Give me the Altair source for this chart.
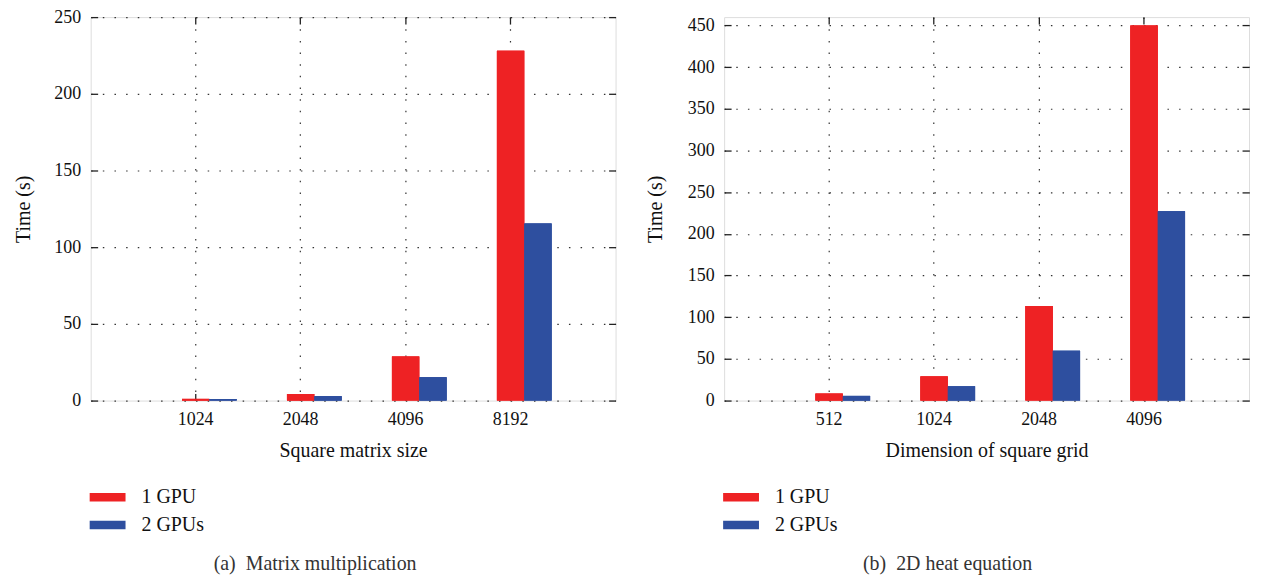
import altair as alt
import pandas as pd

FONT = "Liberation Serif, Times New Roman, serif"

gpus = ["1 GPU", "2 GPUs"]
gpu_colors = ["#ee2224", "#2e4f9f"]

mm_sizes = ["1024", "2048", "4096", "8192"]
mm_1gpu = [1.1, 4.3, 28.8, 228.0]
mm_2gpu = [1.0, 2.9, 15.2, 115.5]
mm_ticks = [0, 50, 100, 150, 200, 250]

he_sizes = ["512", "1024", "2048", "4096"]
he_1gpu = [8.4, 29.0, 113.3, 450.0]
he_2gpu = [5.6, 17.1, 59.8, 227.0]
he_ticks = [0, 50, 100, 150, 200, 250, 300, 350, 400, 450]


def make_df(sizes, one, two):
    rows = []
    for s, a, b in zip(sizes, one, two):
        rows.append({"size": s, "gpu": gpus[0], "time": a})
        rows.append({"size": s, "gpu": gpus[1], "time": b})
    return pd.DataFrame(rows)


def panel(df, sizes, ymax, yvals, xtitle, caption, ytitle_pad):
    xscale = alt.Scale(paddingInner=0, paddingOuter=0.5)
    offscale = alt.Scale(domain=["_"] + gpus, paddingInner=0, paddingOuter=0.42)
    yscale = alt.Scale(domain=[0, ymax], nice=False, zero=True)
    color = alt.Color(
        "gpu:N",
        scale=alt.Scale(domain=gpus, range=gpu_colors),
        legend=alt.Legend(
            orient="none", legendX=-1, legendY=464, title=None,
            direction="vertical", symbolType="M-1,-0.24H1V0.24H-1Z",
            symbolSize=1296, symbolStrokeWidth=0, symbolOpacity=1,
            labelFont=FONT, labelFontSize=20, labelColor="#111",
            labelOffset=16, rowPadding=0, padding=0,
        ),
    )

    def layer(xaxis, yaxis):
        return alt.Chart(df).mark_bar().encode(
            x=alt.X("size:N", sort=sizes, scale=xscale, axis=xaxis),
            xOffset=alt.XOffset("gpu:N", scale=offscale),
            y=alt.Y("time:Q", scale=yscale, axis=yaxis),
            color=color,
        )

    grid = dict(grid=True, gridDash=[1.5, 10.2], gridColor="#333", gridWidth=1.2)
    lab = dict(labelFont=FONT, labelFontSize=18, labelColor="#111",
               titleFont=FONT, titleFontSize=20, titleFontWeight="normal", titleColor="#111")
    main = layer(
        alt.Axis(title=xtitle, orient="bottom", ticks=False, domain=False, labelAngle=0,
                 labelPadding=10, titlePadding=12, **grid, **lab),
        alt.Axis(title="Time (s)", orient="left", values=yvals, ticks=False, domain=False,
                 labelPadding=10, titlePadding=ytitle_pad, **grid, **lab),
    )
    tk = dict(labels=False, domain=False, grid=False, ticks=True, tickSize=7,
              tickColor="#222", tickWidth=1.3, offset=-7, title=None,
              minExtent=0, maxExtent=0)
    inner1 = layer(alt.Axis(orient="bottom", **tk), alt.Axis(orient="left", values=yvals, **tk))
    inner2 = layer(alt.Axis(orient="top", **tk), alt.Axis(orient="right", values=yvals, **tk))
    return alt.layer(main, inner1, inner2).resolve_axis(
        x="independent", y="independent"
    ).properties(
        width=527, height=385,
        title=alt.TitleParams(caption, orient="bottom", anchor="middle", frame="bounds",
                              offset=19, font=FONT, fontSize=20, fontWeight="normal",
                              color="#333"),
    )


left = panel(make_df(mm_sizes, mm_1gpu, mm_2gpu), mm_sizes, 250, mm_ticks,
             "Square matrix size", "(a)\u00a0\u00a0Matrix multiplication", 20)
right = panel(make_df(he_sizes, he_1gpu, he_2gpu), he_sizes, 460, he_ticks,
              "Dimension of square grid", "(b)\u00a0\u00a02D heat equation", 22)

chart = alt.hconcat(left, right, spacing=27).resolve_scale(
    color="independent"
).properties(
    padding={"left": 5, "top": -2, "right": 2, "bottom": 2}
).configure_view(stroke="#222", strokeWidth=1.5).configure(background="white")

chart.save("out.html", embed_options={"renderer": "svg", "actions": False})
